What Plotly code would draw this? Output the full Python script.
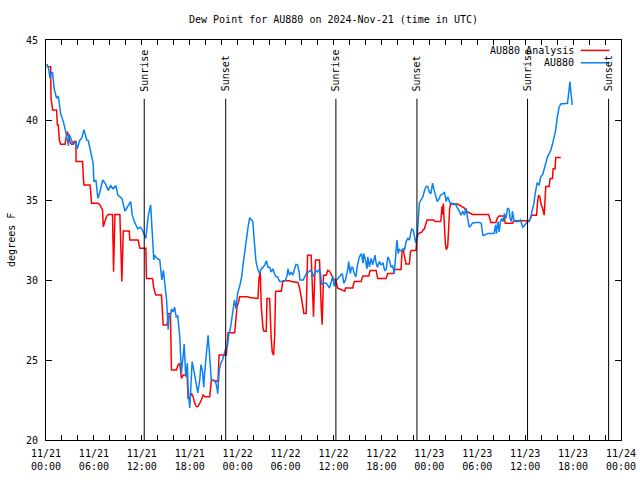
import pandas as pd
import plotly.graph_objects as go

# ---------------- data (hours after 2024-11-21 00:00 UTC) ----------------
start = pd.Timestamp("2024-11-21 00:00")

obs_hours = [0.08, 0.3, 0.5, 0.65, 0.83, 1.0, 1.33, 1.54, 1.83, 2.17, 2.5, 2.8, 2.9, 3.2, 3.4, 3.75, 3.9,
             4.25, 4.46, 4.75, 5.1, 5.3, 5.6, 5.9, 6.0, 6.25, 6.5, 6.75, 7.1, 7.4, 7.8, 8.1, 8.4, 8.75,
             9.0, 9.5, 9.9, 10.2, 10.6, 10.8, 11.1, 11.5, 11.8, 12.0, 12.25, 12.5, 12.8, 13.1, 13.2,
             13.5, 13.6, 13.9, 14.25, 14.5, 14.7, 14.9, 15.1, 15.3, 15.4, 15.6, 15.7, 15.9, 16.1, 16.3,
             16.5, 16.75, 16.95, 17.2, 17.3, 17.5, 17.7, 17.8, 18.0, 18.2, 18.3, 18.5, 18.7, 18.8, 19.0,
             19.25, 19.4, 19.6, 19.75, 19.9, 20.1, 20.3, 20.5, 20.7, 20.9, 21.25, 21.4, 21.5, 21.7,
             21.9, 22.1, 22.3, 22.5, 22.7, 22.9, 23.1, 23.4, 23.6, 23.8, 24.0, 24.25, 24.5, 24.7, 24.9,
             25.1, 25.3, 25.5, 25.7, 25.9, 26.1, 26.3, 26.5, 26.75, 26.95, 27.2, 27.4, 27.6, 27.8, 28.0,
             28.2, 28.4, 28.6, 28.8, 29.0, 29.25, 29.7, 30.0, 30.2, 30.3, 30.5, 30.7, 30.9, 31.1, 31.3,
             31.5, 31.7, 31.8, 32.2, 32.5, 32.7, 32.9, 33.1, 33.3, 33.5, 33.7, 33.8, 34.0, 34.25, 34.4,
             34.5, 34.7, 35.1, 35.5, 35.7, 35.9, 36.1, 36.25, 36.4, 36.6, 36.8, 37.1, 37.3, 37.5, 37.8,
             37.9, 38.1, 38.25, 38.4, 38.6, 38.8, 39.0, 39.25, 39.5, 39.7, 39.8, 40.0, 40.2, 40.3, 40.5,
             40.7, 40.9, 41.2, 41.3, 41.5, 41.75, 41.95, 42.2, 42.4, 42.6, 42.8, 43.0, 43.2, 43.4, 43.6,
             43.8, 43.95, 44.1, 44.25, 44.5, 44.7, 44.9, 45.1, 45.3, 45.5, 45.7, 45.8, 46.0, 46.2, 46.3,
             46.5, 46.6, 46.75, 46.95, 47.2, 47.4, 47.6, 47.8, 48.0, 48.2, 48.4, 48.6, 48.8, 49.0, 49.25,
             49.4, 49.75, 49.9, 50.1, 50.3, 50.6, 50.9, 51.1, 51.3, 51.5, 51.75, 51.95, 52.2, 52.4, 52.6,
             52.8, 53.0, 53.2, 53.4, 53.8, 54.25, 54.5, 54.7, 54.9, 55.3, 55.7, 56.1, 56.3, 56.4, 56.6,
             56.75, 56.9, 57.1, 57.25, 57.4, 57.6, 57.8, 58.0, 58.1, 58.3, 58.4, 58.6, 58.75, 59.0, 59.2,
             59.4, 59.7, 59.9, 60.1, 60.3, 60.5, 60.7, 60.9, 61.1, 61.25, 61.4, 61.5, 61.75, 61.95, 62.2,
             62.4, 62.6, 62.8, 63.0, 63.2, 63.4, 63.6, 63.8, 64.0, 64.25, 64.45, 64.9, 65.3, 65.5, 65.6,
             65.75, 65.9]
obs_vals = [43.5, 43.3, 42.6, 42.9, 43.0, 42.0, 41.35, 41.5, 40.4, 39.9, 39.2, 38.4, 39.1, 38.75, 38.5, 38.6, 38.2,
            38.75, 38.85, 39.4, 38.75, 38.7, 37.9, 37.3, 36.15, 36.25, 35.1, 35.5, 36.25, 36.05, 35.6, 35.9, 35.7, 35.9,
            35.3, 35.1, 34.3, 34.6, 34.9, 34.05, 33.6, 33.2, 33.3, 33.2, 32.9, 32.6, 34.0, 34.7, 33.85,
            31.25, 31.55, 31.35, 31.25, 30.0, 30.6, 29.8, 28.75, 26.9, 27.7, 27.8, 28.2, 28.0, 28.3, 27.7,
            27.75, 26.45, 24.2, 25.4, 26.0, 23.95, 24.8, 23.1, 22.0, 23.95, 24.9, 24.4, 23.75, 23.6, 22.95,
            23.75, 24.7, 24.3, 23.3, 24.4, 25.6, 26.55, 25.2, 23.75, 23.75, 23.6, 23.3, 22.9, 24.4,
            24.8, 25.0, 25.4, 25.7, 25.8, 26.65, 27.0, 28.1, 28.75, 28.2, 29.2, 29.6, 30.2, 31.05, 31.9,
            32.7, 33.3, 33.9, 33.8, 33.65, 32.3, 31.15, 30.7, 30.4, 30.7, 30.8, 30.95, 31.2, 30.8, 30.8,
            30.5, 30.7, 30.4, 30.2, 30.2, 29.9, 29.9, 30.0, 30.3, 30.7, 30.3, 30.5, 30.3, 30.6, 30.98,
            30.95, 30.5, 30.0, 30.0, 30.3, 30.5, 30.5, 30.6, 30.5, 30.2, 30.5, 30.6, 30.5, 30.7, 30.3,
            29.7, 29.8, 29.8, 29.5, 29.8, 30.2, 29.6, 29.9, 30.0, 30.1, 30.2, 30.4, 29.8, 30.0, 30.7,
            31.15, 30.4, 30.8, 30.8, 30.4, 30.2, 30.95, 31.45, 31.65, 31.05, 31.65, 31.25, 30.7, 31.45, 30.8,
            31.35, 30.95, 31.55, 31.15, 30.8, 31.15, 30.95, 31.05, 30.6, 30.65, 31.45, 31.25, 30.8, 30.9, 30.4,
            31.95, 32.5, 31.65, 31.9, 31.8, 31.95, 31.9, 32.4, 32.6, 32.5, 33.0, 33.2, 33.1, 32.6, 32.3,
            32.9, 33.95, 34.8, 35.0, 35.2, 35.6, 35.85, 35.85, 35.5, 35.4, 36.05, 35.6, 35.2, 34.9, 35.1,
            35.3, 35.4, 35.5, 34.9, 35.2, 34.8, 34.8, 34.7, 34.75, 34.5, 34.3, 34.05, 34.3, 34.05, 34.5,
            33.85, 33.3, 33.4, 33.55, 33.6, 33.6, 33.55, 32.8, 32.8, 32.9, 32.9, 32.9, 33.45, 32.9, 33.65,
            33.0, 33.65, 33.85, 33.65, 34.15, 33.85, 34.5, 34.4, 33.85, 33.65, 34.3, 33.75, 33.65, 33.65, 33.65,
            33.75, 33.3, 33.4, 33.55, 33.65, 33.65, 33.95, 34.4, 34.8, 35.4, 35.7, 36.05, 35.95, 36.45, 36.6,
            36.95, 37.4, 37.7, 37.9, 38.1, 38.45, 38.85, 39.3, 40.1, 40.8, 41.0, 41.05, 41.05, 41.9, 42.4,
            41.6, 40.95]

anl_hours = [0.08, 0.58, 0.63, 0.83, 1.33, 1.42, 1.54, 1.67, 1.83, 2.38, 2.5, 2.67, 2.79, 3.0, 3.2, 3.42,
             3.5, 3.75, 3.77, 4.58, 4.67, 4.75, 5.5, 5.58, 5.7, 6.54, 6.75, 7.08, 7.17, 7.38, 7.58, 7.79,
             8.33, 8.46, 8.63, 9.25, 9.38, 9.5, 9.67, 10.42, 10.5, 11.54, 11.75, 12.5, 12.58, 13.33, 13.5,
             13.75, 14.46, 14.67, 15.17, 15.29, 15.58, 15.71, 16.33, 16.54, 16.75, 16.96, 17.17, 17.67,
             17.79, 18.0, 18.21, 18.42, 18.63, 18.83, 19.04, 19.25, 19.46, 19.67, 19.88, 20.5, 20.71,
             21.54, 21.67, 22.58, 22.71, 22.79, 23.63, 23.75, 23.92, 24.17, 24.25, 25.29, 25.5, 26.54,
             26.67, 26.83, 26.96, 27.17, 27.29, 27.58, 27.67, 28.0, 28.08, 28.2, 28.33, 28.5, 28.63, 28.75,
             29.46, 29.58, 29.67, 30.5, 30.7, 31.54, 31.75, 31.96, 32.17, 32.29, 32.58, 32.67, 32.75, 33.2,
             33.33, 33.5, 33.63, 33.75, 34.25, 34.33, 34.46, 34.58, 34.75, 35.08, 35.29, 35.5, 35.7, 35.9,
             36.1, 36.3, 36.5, 37.4, 37.5, 38.4, 38.6, 39.45, 39.67, 40.42, 40.58, 41.33, 41.54, 42.58,
             42.79, 43.5, 43.63, 44.46, 44.58, 44.75, 44.88, 45.08, 45.5, 45.63, 45.75, 46.33, 46.46, 46.63,
             47.08, 47.17, 47.38, 47.58, 47.71, 48.54, 48.75, 49.38, 49.46, 49.58, 49.67, 49.75, 49.88,
             50.0, 50.13, 50.3, 50.42, 50.54, 50.67, 51.54, 52.38, 52.58, 53.0, 53.42, 55.42, 55.58, 55.71,
             56.33, 56.54, 56.75, 57.38, 57.5, 58.42, 58.63, 60.5, 60.83, 61.42, 61.54, 61.67, 61.83, 62.0,
             62.17, 62.38, 62.46, 62.58, 63.0, 63.13, 63.42, 63.5, 63.75, 63.83, 64.46]
anl_vals = [43.33, 43.33, 41.35, 40.63, 40.63, 39.69, 39.69, 38.75, 38.48, 38.48, 38.85, 39.27, 39.06, 38.65, 38.48, 38.48,
            38.65, 38.65, 37.4, 37.4, 36.46, 35.94, 35.94, 35.63, 34.79, 34.79, 34.69, 34.38, 33.33, 33.75, 33.96, 34.1,
            34.1, 30.52, 34.1, 34.1, 32.0, 29.9, 33.06, 33.06, 32.5, 32.5, 31.98, 31.98, 30.1, 30.1, 29.48,
            29.06, 29.06, 27.19, 27.19, 27.9, 27.9, 24.38, 24.38, 24.69, 24.79, 23.85, 24.06, 24.06,
            22.6, 22.6, 22.92, 22.71, 22.29, 22.08, 22.1, 22.29, 22.5, 22.81, 22.71, 22.71, 23.75,
            23.65, 25.31, 25.31, 25.94, 26.71, 26.71, 27.5, 28.33, 28.75, 28.95, 28.95, 28.9, 28.85,
            30.1, 30.5, 28.3, 27.0, 26.8, 26.8, 28.85, 28.85, 27.7, 26.35, 25.5, 25.3, 26.5, 29.3,
            29.3, 29.8, 29.95, 29.95, 29.9, 29.85, 29.5, 28.95, 28.4, 27.9, 27.9, 30.5, 31.55, 31.55,
            29.4, 27.7, 29.9, 31.25, 31.25, 29.8, 28.3, 27.2, 30.3, 30.3, 30.6, 30.55, 30.35, 30.2,
            30.0, 30.0, 29.5, 29.3, 29.5, 29.5, 29.9, 29.9, 30.25, 30.25, 30.6, 30.6, 30.1, 30.1,
            30.4, 30.4, 30.65, 30.65, 31.75, 31.85, 31.4, 31.0, 31.0, 31.75, 31.85, 31.85, 32.6, 32.9,
            33.0, 33.1, 33.2, 33.55, 33.75, 33.75, 33.65, 33.65, 33.75, 34.6, 34.1, 34.8, 33.4,
            32.3, 31.9, 32.1, 33.2, 34.45, 34.75, 34.75, 34.5, 34.3, 34.2, 34.1, 34.1, 33.75, 33.6,
            33.6, 33.9, 34.0, 34.0, 33.55, 33.55, 33.7, 33.7, 34.05, 34.05, 34.8, 35.3, 35.2, 34.7,
            34.5, 34.05, 34.7, 35.85, 35.85, 36.35, 36.35, 36.95, 36.95, 37.65, 37.65]

sun_labels = ["Sunrise", "Sunset", "Sunrise", "Sunset", "Sunrise", "Sunset"]
sun_hours = [12.3, 22.5, 36.3, 46.45, 60.3, 70.45]

tick_hours = list(range(0, 73, 2))
tick_labels = [(f"{(start + pd.Timedelta(hours=h)).strftime('%m/%d')}<br>"
                f"{(start + pd.Timedelta(hours=h)).strftime('%H:%M')}") if h % 6 == 0 else ""
               for h in tick_hours]

series_names = ["AU880 Analysis", "AU880"]
series_colors = ["#ff0000", "#0a80f5"]


def to_time(hours):
    return [start + pd.Timedelta(hours=h) for h in hours]


FONT = "DejaVu Sans Mono"

fig = go.Figure()
fig.add_trace(go.Scatter(x=to_time(anl_hours), y=anl_vals, mode="lines",
                         line=dict(color=series_colors[0], width=1.5), name=series_names[0]))
fig.add_trace(go.Scatter(x=to_time(obs_hours), y=obs_vals, mode="lines",
                         line=dict(color=series_colors[1], width=1.5), name=series_names[1]))

shapes = []
annotations = []
for lab, h in zip(sun_labels, sun_hours):
    t = start + pd.Timedelta(hours=h)
    shapes.append(dict(type="line", xref="x", yref="paper", x0=t, x1=t, y0=0, y1=0.853,
                       line=dict(color="black", width=1)))
    annotations.append(dict(text=lab, textangle=-90, xref="x", yref="paper", x=t, y=0.866,
                            xanchor="center", yanchor="bottom", showarrow=False,
                            font=dict(family=FONT, size=10, color="black")))

# legend (gnuplot style: text right, sample line to the right of it)
leg_y = [0.974, 0.943]
for name, col, yy in zip(series_names, series_colors, leg_y):
    annotations.append(dict(text=name, xref="paper", yref="paper", x=0.921, y=yy,
                            xanchor="right", yanchor="middle", showarrow=False,
                            font=dict(family=FONT, size=10, color="black")))
    shapes.append(dict(type="line", xref="paper", yref="paper", x0=0.930, x1=0.980, y0=yy, y1=yy,
                       line=dict(color=col, width=1.5)))

annotations.append(dict(text="degrees F", textangle=-90, xref="paper", yref="paper",
                        x=-0.061, y=0.5, xanchor="center", yanchor="middle", showarrow=False,
                        font=dict(family=FONT, size=10, color="black")))

fig.update_layout(
    width=640, height=480,
    margin=dict(l=46, r=19, t=40, b=40, autoexpand=False),
    paper_bgcolor="white", plot_bgcolor="white",
    showlegend=False,
    title=dict(text="Dew Point for AU880 on 2024-Nov-21 (time in UTC)", x=0.5, xref="paper",
               xanchor="center", y=0.96, yanchor="middle",
               font=dict(family=FONT, size=10, color="black")),
    font=dict(family=FONT, size=10, color="black"),
    shapes=shapes, annotations=annotations,
)
fig.update_xaxes(
    range=[start, start + pd.Timedelta(hours=72)],
    tickmode="array", tickvals=to_time(tick_hours), ticktext=tick_labels,
    ticks="inside", ticklen=5, tickcolor="black",
    showline=True, linecolor="black", linewidth=1, mirror="ticks",
    showgrid=False, zeroline=False, automargin=False, ticklabelstandoff=4,
    tickfont=dict(family=FONT, size=10, color="black"),
)
fig.update_yaxes(
    range=[20, 45], tick0=20, dtick=5,
    ticks="inside", ticklen=6, tickcolor="black",
    showline=True, linecolor="black", linewidth=1, mirror="ticks",
    showgrid=False, zeroline=False, automargin=False, ticklabelstandoff=5,
    tickfont=dict(family=FONT, size=10, color="black"),
)

fig.write_html("out.html", config={"displayModeBar": False},
               post_script="document.body.style.margin='0';")
